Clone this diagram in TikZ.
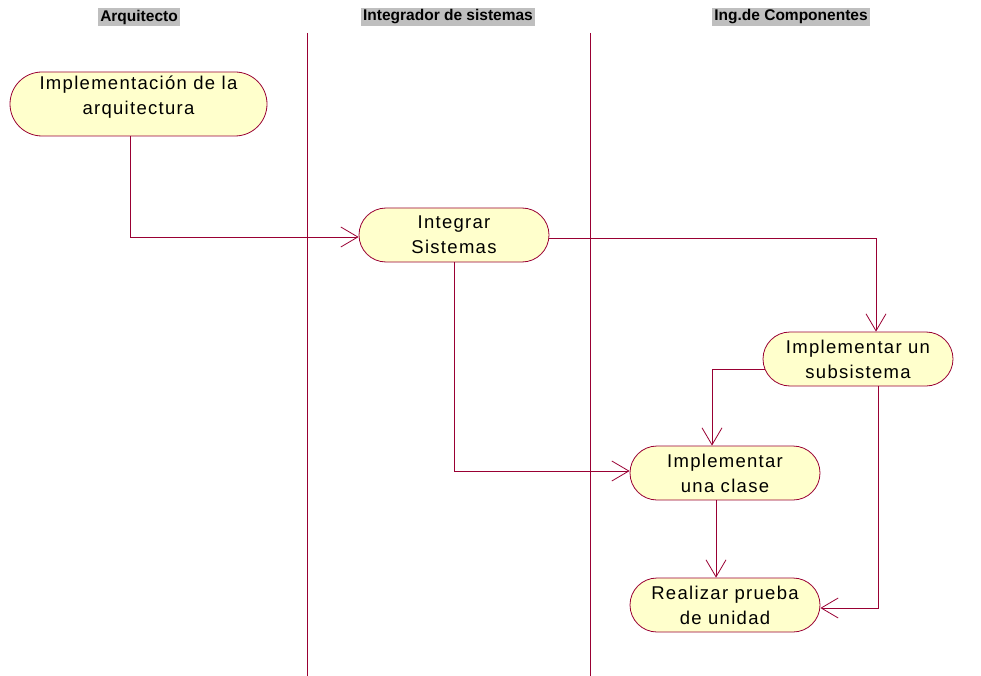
\documentclass[tikz,border=0pt]{standalone}
\usepackage{fontspec}
\setmainfont{Liberation Sans}
\usepackage{tikz}
\usetikzlibrary{shapes.misc,arrows.meta}
\definecolor{linea}{RGB}{153,0,51}
\definecolor{relleno}{RGB}{255,255,204}

\begin{document}
\begin{tikzpicture}[x=1pt,y=-1pt,>={Straight Barb[length=17pt,width=20pt]},line width=0.8pt,
  actividad/.style={rounded rectangle,draw=linea,fill=relleno,minimum width=190pt,minimum height=54pt,
    inner sep=0pt,align=center,text=black,font=\fontsize{18.5}{25}\selectfont\addfontfeature{LetterSpace=7}},
  carril/.style={fill=black!25,inner sep=2pt,font=\bfseries\fontsize{15.5}{17}\selectfont}]
\useasboundingbox (0,0) rectangle (981,676);

% carriles
\node[carril](c1) at (139,17) {Arquitecto};
\node[carril](c2) at (448,17) {Integrador de sistemas};
\node[carril](c3) at (791,17) {Ing.de Componentes};
\draw[linea](307,33) -- (307,676);
\draw[linea](590,33) -- (590,676);

% actividades
\node[actividad,minimum width=257pt,minimum height=64pt](q1) at (138.5,104) {Implementación de la\\arquitectura\\[-8pt]};
\node[actividad](q2) at (454,235) {Integrar\\Sistemas};
\node[actividad](q3) at (858,359) {Implementar un\\subsistema};
\node[actividad](q4) at (725,473) {Implementar\\una clase};
\node[actividad](q5) at (725,605) {Realizar prueba\\de unidad};

% transiciones
\draw[->,linea]([xshift=-8pt]q1.south) |- ([yshift=-2pt]q2.west);
\draw[->,linea]([yshift=-3pt]q2.east) -| ([xshift=18pt]q3.north);
\draw[->,linea]([xshift=2pt,yshift=-10pt]q3.west) -| ([xshift=-13pt]q4.north);
\draw[->,linea](q2.south) |- ([yshift=2pt]q4.west);
\draw[->,linea]([xshift=-9pt]q4.south) -- ([xshift=-9pt]q5.north);
\draw[->,linea]([xshift=20pt]q3.south) |- ([yshift=-3pt]q5.east);
\end{tikzpicture}
\end{document}
